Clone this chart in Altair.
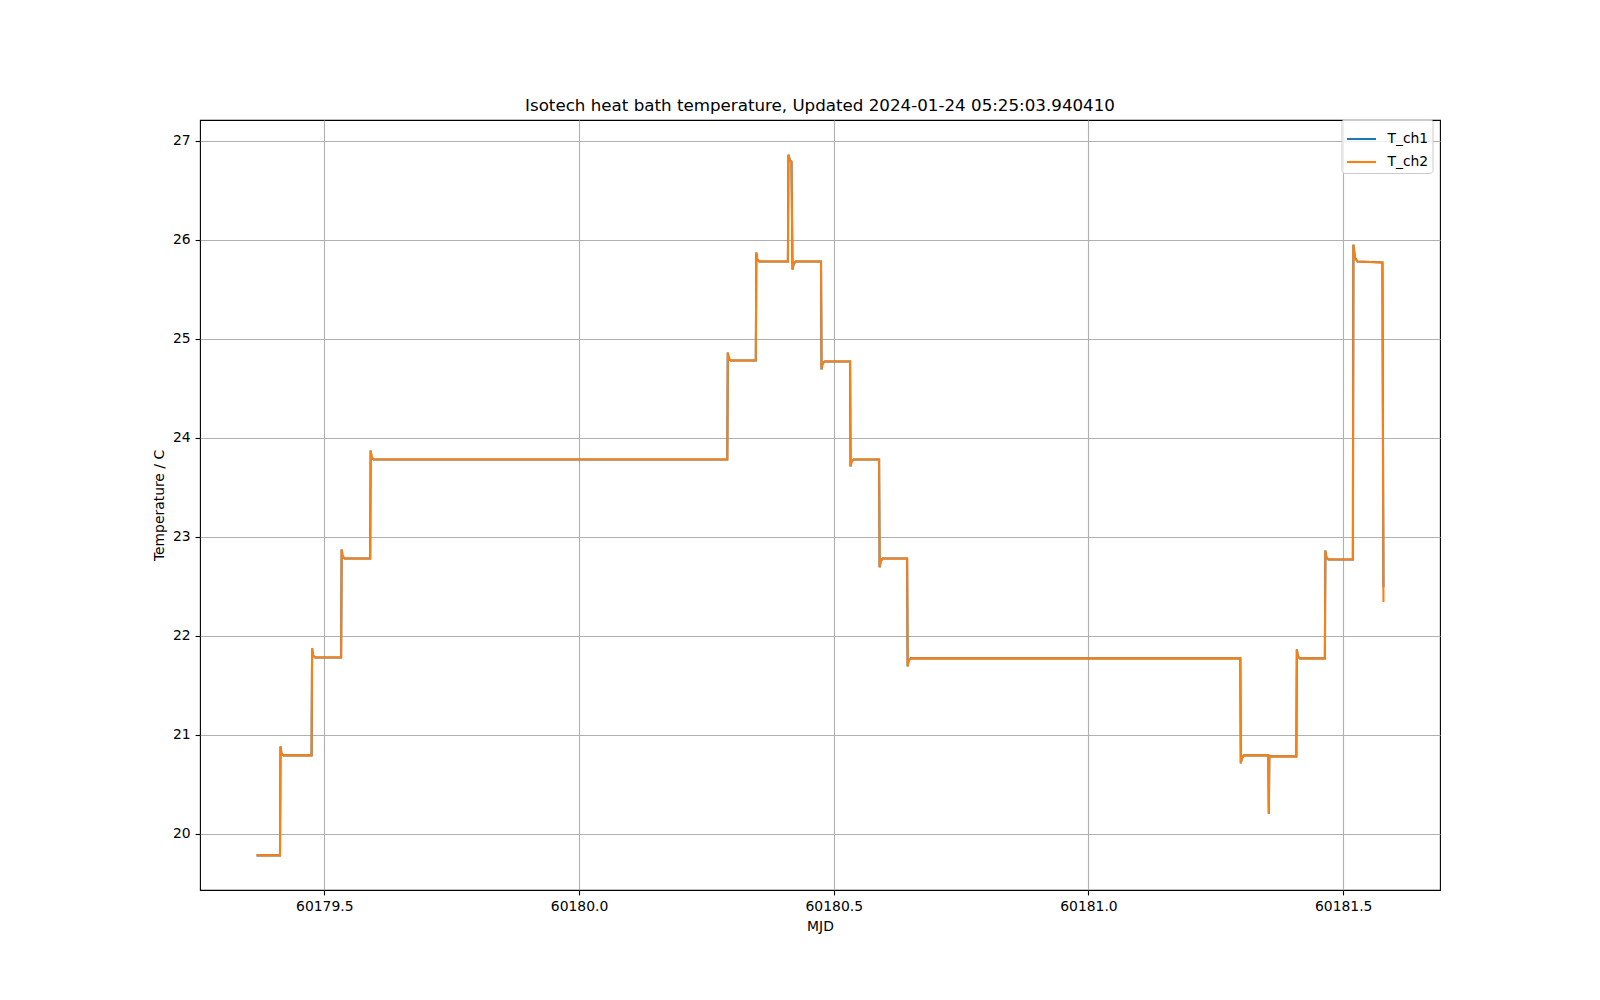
import altair as alt
import pandas as pd

# Break-points (MJD, temperature in C)
mjd = [
    60179.367, 60179.413, 60179.414, 60179.416, 60179.420,
    60179.475, 60179.476, 60179.478, 60179.482,
    60179.533, 60179.534, 60179.536, 60179.540,
    60179.590, 60179.591, 60179.593, 60179.597,
    60180.291, 60180.292, 60180.294, 60180.298,
    60180.347, 60180.348, 60180.350, 60180.354,
    60180.410, 60180.411, 60180.414, 60180.417, 60180.419, 60180.421, 60180.425,
    60180.475, 60180.476, 60180.478, 60180.482,
    60180.532, 60180.533, 60180.535, 60180.539,
    60180.589, 60180.590, 60180.592, 60180.596,
    60180.644, 60180.645, 60180.647, 60180.651,
    60181.298, 60181.299, 60181.301, 60181.305,
    60181.353, 60181.354, 60181.355,
    60181.408, 60181.409, 60181.411, 60181.415,
    60181.464, 60181.465, 60181.467, 60181.471,
    60181.519, 60181.520, 60181.523, 60181.528,
    60181.577, 60181.579,
]
t_ch2 = [
    19.78, 19.78, 20.88, 20.81, 20.79,
    20.79, 21.87, 21.80, 21.78,
    21.78, 22.87, 22.80, 22.78,
    22.78, 23.87, 23.80, 23.78,
    23.78, 24.86, 24.80, 24.78,
    24.78, 25.87, 25.80, 25.78,
    25.78, 26.86, 26.80, 26.79, 25.70, 25.75, 25.78,
    25.78, 24.69, 24.75, 24.77,
    24.77, 23.71, 23.76, 23.78,
    23.78, 22.69, 22.75, 22.78,
    22.78, 21.69, 21.75, 21.77,
    21.77, 20.71, 20.76, 20.79,
    20.79, 20.20, 20.78,
    20.78, 21.86, 21.79, 21.77,
    21.77, 22.86, 22.79, 22.77,
    22.77, 25.95, 25.82, 25.78,
    25.77, 22.34,
]
t_ch1 = [
    19.78, 19.78, 20.88, 20.81, 20.79,
    20.79, 21.87, 21.80, 21.78,
    21.78, 22.87, 22.80, 22.78,
    22.78, 23.87, 23.80, 23.78,
    23.78, 24.86, 24.80, 24.78,
    24.78, 25.87, 25.80, 25.78,
    25.78, 26.86, 26.80, 26.79, 25.70, 25.75, 25.78,
    25.78, 24.69, 24.75, 24.77,
    24.77, 23.71, 23.76, 23.78,
    23.78, 22.69, 22.75, 22.78,
    22.78, 21.69, 21.75, 21.77,
    21.77, 20.71, 20.76, 20.79,
    20.79, 20.20, 20.78,
    20.78, 21.86, 21.79, 21.77,
    21.77, 22.86, 22.79, 22.77,
    22.77, 25.95, 25.82, 25.78,
    25.77, 22.49,
]
series = ["T_ch1", "T_ch2"]
colors = ["#1f77b4", "#ff7f0e"]
x_ticks = [60179.5, 60180.0, 60180.5, 60181.0, 60181.5]
y_ticks = [20, 21, 22, 23, 24, 25, 26, 27]
x_domain = [60179.256, 60181.690]
y_domain = [19.43, 27.21]
title_text = "Isotech heat bath temperature, Updated 2024-01-24 05:25:03.940410"

rows = []
for name, vals in zip(series, [t_ch1, t_ch2]):
    for i, (m, v) in enumerate(zip(mjd, vals)):
        rows.append({"MJD": m, "T": v, "series": name, "idx": i})
df = pd.DataFrame(rows)

FONT = "DejaVu Sans"

chart = (
    alt.Chart(df)
    .mark_line(strokeWidth=2.08, clip=True)
    .encode(
        x=alt.X(
            "MJD:Q",
            scale=alt.Scale(domain=x_domain, nice=False, zero=False),
            axis=alt.Axis(values=x_ticks, format=".1f", title="MJD"),
        ),
        y=alt.Y(
            "T:Q",
            scale=alt.Scale(domain=y_domain, nice=False, zero=False),
            axis=alt.Axis(values=y_ticks, format="d", title="Temperature / C"),
        ),
        color=alt.Color(
            "series:N",
            scale=alt.Scale(domain=series, range=colors),
            legend=alt.Legend(
                title=None,
                orient="none",
                legendX=1141.5,
                legendY=-1,
                symbolType="stroke",
                symbolSize=841,
                symbolStrokeWidth=2.08,
                labelFontSize=13.9,
                labelFont=FONT,
                labelColor="black",
                labelOffset=10,
                rowPadding=-9,
                padding=4,
                fillColor="rgba(255,255,255,0.8)",
                strokeColor="#cccccc",
                cornerRadius=3,
            ),
        ),
        order="idx:Q",
    )
    .properties(
        width=1240,
        height=770,
        title=alt.TitleParams(
            title_text,
            fontSize=16.7,
            font=FONT,
            fontWeight="normal",
            color="black",
            anchor="middle",
            offset=4,
        ),
        autosize=alt.AutoSizeParams(type="none"),
        padding={"left": 192, "top": 112, "right": 140, "bottom": 90},
    )
    .configure_view(stroke="black", strokeWidth=1.1)
    .configure_axis(
        grid=True,
        gridColor="#b0b0b0",
        gridWidth=1.1,
        domain=False,
        tickColor="black",
        tickSize=4.9,
        tickWidth=1.1,
        labelPadding=4.9,
        labelFont=FONT,
        labelFontSize=13.9,
        labelColor="black",
        titleFont=FONT,
        titleFontSize=13.9,
        titleFontWeight="normal",
        titleColor="black",
        titlePadding=5.6,
    )
)

chart.save("out.html", embed_options={"renderer": "svg", "actions": False})
